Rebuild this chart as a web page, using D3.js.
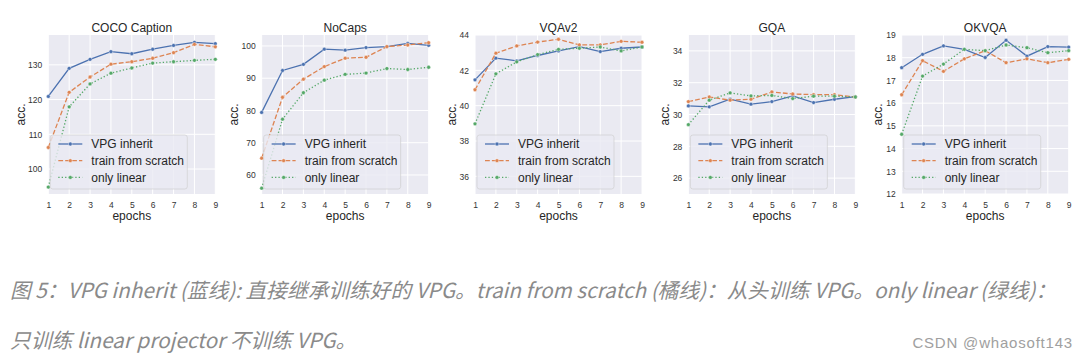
<!DOCTYPE html>
<html>
<head>
<meta charset="utf-8">
<script src="https://cdn.jsdelivr.net/npm/d3@7"></script>
<style>
  html, body { margin: 0; padding: 0; background: #ffffff; }
  svg { display: block; }
</style>
</head>
<body>
<svg id="chart" width="1087" height="360"></svg>
<script>
// ---------------- data ----------------
const epochs = [1, 2, 3, 4, 5, 6, 7, 8, 9];
const seriesNames = ["VPG inherit", "train from scratch", "only linear"];
const panelTitles = ["COCO Caption", "NoCaps", "VQAv2", "GQA", "OKVQA"];

const cocoInherit = [120.9, 129.0, 131.6, 133.8, 133.2, 134.5, 135.6, 136.5, 136.1];
const cocoScratch = [106.2, 122.1, 126.5, 130.2, 130.9, 131.9, 133.5, 135.9, 135.2];
const cocoLinear  = [94.8, 117.9, 124.5, 127.6, 129.1, 130.5, 130.9, 131.3, 131.6];

const nocapsInherit = [79.4, 92.4, 94.3, 99.0, 98.7, 99.5, 99.8, 100.8, 100.2];
const nocapsScratch = [65.2, 84.1, 89.7, 93.6, 96.2, 96.5, 99.8, 100.3, 101.0];
const nocapsLinear  = [55.9, 77.3, 85.5, 89.4, 91.2, 91.6, 93.0, 92.7, 93.4];

const vqaInherit = [41.46, 42.69, 42.54, 42.84, 43.10, 43.34, 43.06, 43.25, 43.32];
const vqaScratch = [40.90, 42.97, 43.38, 43.60, 43.76, 43.44, 43.44, 43.64, 43.59];
const vqaLinear  = [38.97, 41.80, 42.48, 42.89, 43.19, 43.25, 43.32, 43.10, 43.32];

const gqaInherit = [30.54, 30.48, 30.96, 30.65, 30.81, 31.17, 30.75, 30.96, 31.13];
const gqaScratch = [30.81, 31.10, 30.90, 30.96, 31.42, 31.29, 31.25, 31.25, 31.10];
const gqaLinear  = [29.36, 30.90, 31.36, 31.17, 31.20, 31.00, 31.15, 31.15, 31.10];

const okvqaInherit = [17.56, 18.15, 18.52, 18.37, 18.01, 18.77, 18.07, 18.49, 18.47];
const okvqaScratch = [16.37, 17.87, 17.40, 17.95, 18.31, 17.78, 17.95, 17.78, 17.93];
const okvqaLinear  = [14.63, 17.19, 17.72, 18.37, 18.31, 18.56, 18.44, 18.22, 18.31];

const yDomains = [[92.8, 138.6], [54.1, 103.4], [35, 44], [25, 35], [12, 19]];
const yTickValues = [
  [100, 110, 120, 130],
  [60, 70, 80, 90, 100],
  [36, 38, 40, 42, 44],
  [26, 28, 30, 32, 34],
  [12, 13, 14, 15, 16, 17, 18, 19]
];
const panelSeries = [
  [cocoInherit, cocoScratch, cocoLinear],
  [nocapsInherit, nocapsScratch, nocapsLinear],
  [vqaInherit, vqaScratch, vqaLinear],
  [gqaInherit, gqaScratch, gqaLinear],
  [okvqaInherit, okvqaScratch, okvqaLinear]
];
const captionLines = [
  "图 5：VPG inherit (蓝线): 直接继承训练好的 VPG。train from scratch (橘线)：从头训练 VPG。only linear (绿线)：",
  "只训练 linear projector 不训练 VPG。"
];
const watermark = "CSDN @whaosoft143";

// ---------------- style ----------------
const colors = ["#4C72B0", "#DD8452", "#55A868"];
const dashes = [null, "4.8,2.1", "1.3,2.1"];
const bg = "#EAEAF2";
const textColor = "#333333";
const font = "'Liberation Sans', Arial, Helvetica, sans-serif";

const svg = d3.select("#chart");

const plotTop = 35, plotBottom = 194, plotW = 167;
const panelLeft = d3.scaleLinear().domain([0, 4]).range([48.3, 901.7]);

panelTitles.forEach((title, p) => {
  const x0 = panelLeft(p);
  const g = svg.append("g");
  const x = d3.scaleLinear().domain([1, 9]).range([x0, x0 + plotW]);
  const y = d3.scaleLinear().domain(yDomains[p]).range([plotBottom, plotTop]);

  // background
  g.append("rect")
    .attr("x", x0).attr("y", plotTop)
    .attr("width", plotW).attr("height", plotBottom - plotTop)
    .attr("fill", bg);

  // grid
  g.append("g").selectAll("line").data(epochs).join("line")
    .attr("x1", d => x(d)).attr("x2", d => x(d))
    .attr("y1", plotTop).attr("y2", plotBottom)
    .attr("stroke", "#fff").attr("stroke-width", 1);
  g.append("g").selectAll("line").data(yTickValues[p]).join("line")
    .attr("x1", x0).attr("x2", x0 + plotW)
    .attr("y1", d => y(d)).attr("y2", d => y(d))
    .attr("stroke", "#fff").attr("stroke-width", 1);

  // axes (labels only, seaborn darkgrid style)
  const xAxis = g.append("g")
    .attr("transform", `translate(0,${plotBottom})`)
    .call(d3.axisBottom(x).tickValues(epochs).tickFormat(d3.format("d")).tickSize(0).tickPadding(8));
  const yAxis = g.append("g")
    .attr("transform", `translate(${x0},0)`)
    .call(d3.axisLeft(y).tickValues(yTickValues[p]).tickFormat(d3.format("d")).tickSize(0).tickPadding(6));
  [xAxis, yAxis].forEach(a => {
    a.select(".domain").remove();
    a.selectAll("text")
      .attr("font-family", font)
      .attr("font-size", 8.5)
      .attr("fill", textColor);
  });

  // titles / labels
  g.append("text")
    .attr("x", x0 + plotW / 2).attr("y", 32)
    .attr("text-anchor", "middle")
    .attr("font-family", font).attr("font-size", 12)
    .attr("fill", "#262626")
    .text(title);
  g.append("text")
    .attr("x", x0 + plotW / 2).attr("y", 220)
    .attr("text-anchor", "middle")
    .attr("font-family", font).attr("font-size", 12)
    .attr("fill", "#262626")
    .text("epochs");
  const maxLabelDigits = d3.max(yTickValues[p], d => String(d).length);
  const ylx = x0 - (maxLabelDigits >= 3 ? 28 : 23.5);
  g.append("text")
    .attr("transform", `translate(${ylx},${(plotTop + plotBottom) / 2}) rotate(-90)`)
    .attr("text-anchor", "middle")
    .attr("dy", "0.35em")
    .attr("font-family", font).attr("font-size", 12)
    .attr("fill", "#262626")
    .text("acc.");

  // lines
  const line = d3.line().x((d, i) => x(epochs[i])).y(d => y(d));
  const clipId = "clip" + p;
  svg.append("clipPath").attr("id", clipId)
    .append("rect").attr("x", x0 - 3).attr("y", plotTop).attr("width", plotW + 6).attr("height", plotBottom - plotTop);
  const lg = g.append("g").attr("clip-path", `url(#${clipId})`);
  panelSeries[p].forEach((vals, s) => {
    lg.append("path")
      .attr("d", line(vals))
      .attr("fill", "none")
      .attr("stroke", colors[s])
      .attr("stroke-width", 1.3)
      .attr("stroke-dasharray", dashes[s]);
    lg.append("g").selectAll("circle").data(vals).join("circle")
      .attr("cx", (d, i) => x(epochs[i])).attr("cy", d => y(d))
      .attr("r", 1.9)
      .attr("fill", colors[s])
      .attr("stroke", "#fff").attr("stroke-width", 0.4);
  });

  // legend
  const lgx = x0 + 2, lgy = 135;
  const leg = g.append("g");
  leg.append("rect")
    .attr("x", lgx).attr("y", lgy)
    .attr("width", 137).attr("height", 54)
    .attr("rx", 2.5)
    .attr("fill", bg).attr("fill-opacity", 0.8)
    .attr("stroke", "#cccccc").attr("stroke-opacity", 0.8).attr("stroke-width", 0.8);
  seriesNames.forEach((name, s) => {
    const ry = lgy + 9 + s * 16.7;
    leg.append("line")
      .attr("x1", lgx + 8).attr("x2", lgx + 32)
      .attr("y1", ry).attr("y2", ry)
      .attr("stroke", colors[s]).attr("stroke-width", 1.3)
      .attr("stroke-dasharray", dashes[s]);
    leg.append("circle")
      .attr("cx", lgx + 20).attr("cy", ry).attr("r", 1.9)
      .attr("fill", colors[s]).attr("stroke", "#fff").attr("stroke-width", 0.4);
    leg.append("text")
      .attr("x", lgx + 41).attr("y", ry).attr("dy", "0.35em")
      .attr("font-family", font).attr("font-size", 12)
      .attr("fill", "#262626")
      .text(name);
  });
});

// caption
const capFont = "'Noto Sans CJK SC', 'Noto Sans', sans-serif";
svg.append("text")
  .attr("x", 10).attr("y", 298)
  .attr("font-family", capFont).attr("font-size", 20.7)
  .attr("font-style", "italic").attr("fill", "#8a8a8a")
  .text(captionLines[0]);
svg.append("text")
  .attr("x", 10).attr("y", 348)
  .attr("font-family", capFont).attr("font-size", 20.7)
  .attr("font-style", "italic").attr("fill", "#8a8a8a")
  .text(captionLines[1]);
svg.append("text")
  .attr("x", 1073).attr("y", 348)
  .attr("text-anchor", "end")
  .attr("font-family", font).attr("font-size", 15)
  .attr("letter-spacing", 0.8)
  .attr("fill", "#a0a0a0")
  .text(watermark);
</script>
</body>
</html>
